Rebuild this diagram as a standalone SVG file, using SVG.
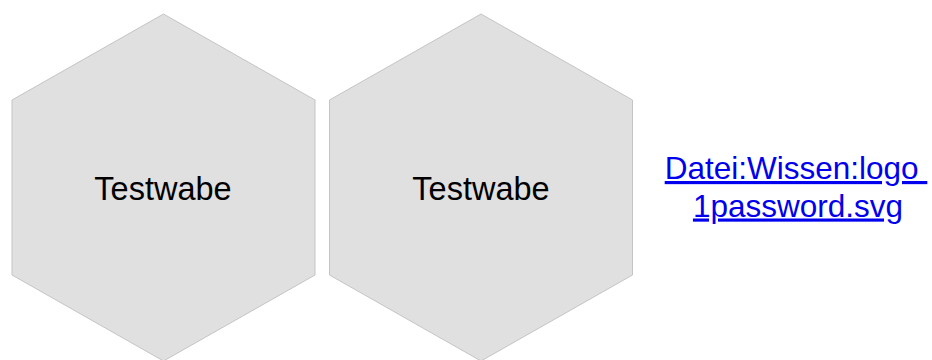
<svg xmlns="http://www.w3.org/2000/svg" width="932" height="360" viewBox="0 0 932 360">
<style>
.hex{fill:#e0e0e0;stroke:#c4c4c4;stroke-width:1}
.lbl{font-family:"Liberation Sans",Arial,sans-serif;font-size:32.5px;fill:#000;text-anchor:middle}
.link{font-family:"Liberation Sans",Arial,sans-serif;font-size:31.5px;fill:#0000ee;text-anchor:middle;text-decoration:underline}
</style>
<rect width="932" height="360" fill="#fff"/>
<g id="hex1">
<polygon class="hex" points="163.5,14 315,100 315,275 163.5,361 12,275 12,100"/>
<text class="lbl" x="163" y="199.5">Testwabe</text>
</g>
<g id="hex2">
<polygon class="hex" points="481,14 632.5,100 632.5,275 481,361 329.5,275 329.5,100"/>
<text class="lbl" x="481" y="199.5">Testwabe</text>
</g>
<g id="link">
<text class="link" x="796" y="179" xml:space="preserve">Datei:Wissen:logo </text>
<text class="link" x="798" y="216.5">1password.svg</text>
</g>
<g id="connectors"/>
</svg>
